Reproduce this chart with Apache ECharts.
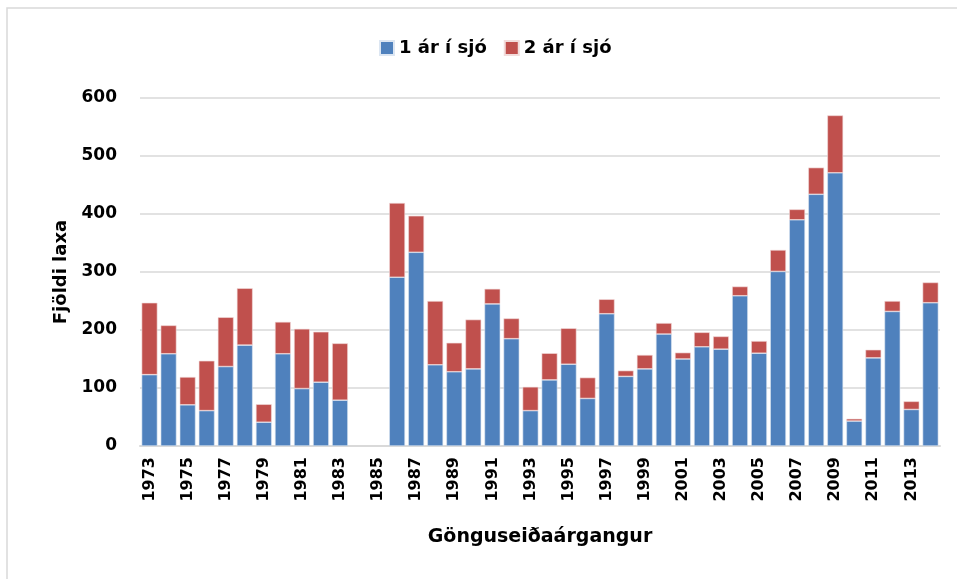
<!DOCTYPE html>
<html>
<head>
<meta charset="utf-8">
<script src="https://cdn.jsdelivr.net/npm/echarts@6/dist/echarts.min.js"></script>
<style>
  html, body { margin: 0; padding: 0; background: #fff; }
  #chart { width: 957px; height: 579px; }
</style>
</head>
<body>
<div id="chart"></div>
<script>
var years = [];
for (var y = 1973; y <= 2014; y++) years.push(String(y));

// 1984 and 1985 have no data
var einAr = [123, 159, 71, 61, 137, 174, 41, 159, 99, 110, 79, null, null,
    291, 334, 140, 128, 133, 245, 185, 61, 114, 141, 82, 228, 120, 133, 193,
    150, 171, 167, 259, 160, 301, 390, 434, 471, 43, 152, 232, 63, 247];
var tvoAr = [124, 49, 48, 86, 85, 98, 31, 55, 103, 87, 98, null, null,
    128, 63, 110, 50, 85, 26, 35, 41, 46, 62, 36, 25, 10, 24, 19,
    11, 25, 22, 16, 21, 37, 18, 46, 99, 4, 14, 18, 14, 35];

var font = 'DejaVu Sans';
var myChart = echarts.init(document.getElementById('chart'));
var option = {
    backgroundColor: '#fff',
    textStyle: { fontFamily: font },
    graphic: [{
        type: 'rect',
        shape: { x: 7, y: 8, width: 1000, height: 700 },
        style: { fill: 'none', stroke: '#d9d9d9', lineWidth: 1.5 }
    }],
    legend: {
        top: 34,
        left: 374,
        icon: 'rect',
        itemWidth: 14,
        itemHeight: 14,
        itemGap: 17,
        itemTextGap: 6,
        textStyle: { fontFamily: font, fontWeight: 'bold', fontSize: 18, color: '#000' },
        data: ['1 ár í sjó', '2 ár í sjó']
    },
    grid: { left: 140, right: 17, top: 98, bottom: 133 },
    xAxis: {
        type: 'category',
        data: years,
        name: 'Gönguseiðaárgangur',
        nameLocation: 'middle',
        nameGap: 82,
        nameTextStyle: { fontFamily: font, fontWeight: 'bold', fontSize: 19, color: '#000' },
        axisTick: { show: false },
        axisLine: { lineStyle: { color: '#d9d9d9', width: 2 } },
        axisLabel: {
            interval: 1,
            rotate: 90,
            margin: 11,
            fontFamily: font,
            fontWeight: 'bold',
            fontSize: 16,
            color: '#000'
        }
    },
    yAxis: {
        type: 'value',
        min: 0,
        max: 600,
        interval: 100,
        name: 'Fjöldi laxa',
        nameLocation: 'middle',
        nameGap: 70,
        nameTextStyle: { fontFamily: font, fontWeight: 'bold', fontSize: 18, color: '#000' },
        axisLine: { show: false },
        axisTick: { show: false },
        axisLabel: { margin: 23, fontFamily: font, fontWeight: 'bold', fontSize: 17, color: '#000' },
        splitLine: { lineStyle: { color: '#d9d9d9', width: 1.5 } }
    },
    series: [
        {
            name: '1 ár í sjó',
            type: 'bar',
            stack: 'lax',
            barCategoryGap: '17%',
            data: einAr,
            itemStyle: { color: '#4f81bd', borderColor: '#dce6f2', borderWidth: 0.6 }
        },
        {
            name: '2 ár í sjó',
            type: 'bar',
            stack: 'lax',
            data: tvoAr,
            itemStyle: { color: '#c0504d', borderColor: '#f2dcdb', borderWidth: 0.6 }
        }
    ]
};
myChart.setOption(option);
</script>
</body>
</html>
